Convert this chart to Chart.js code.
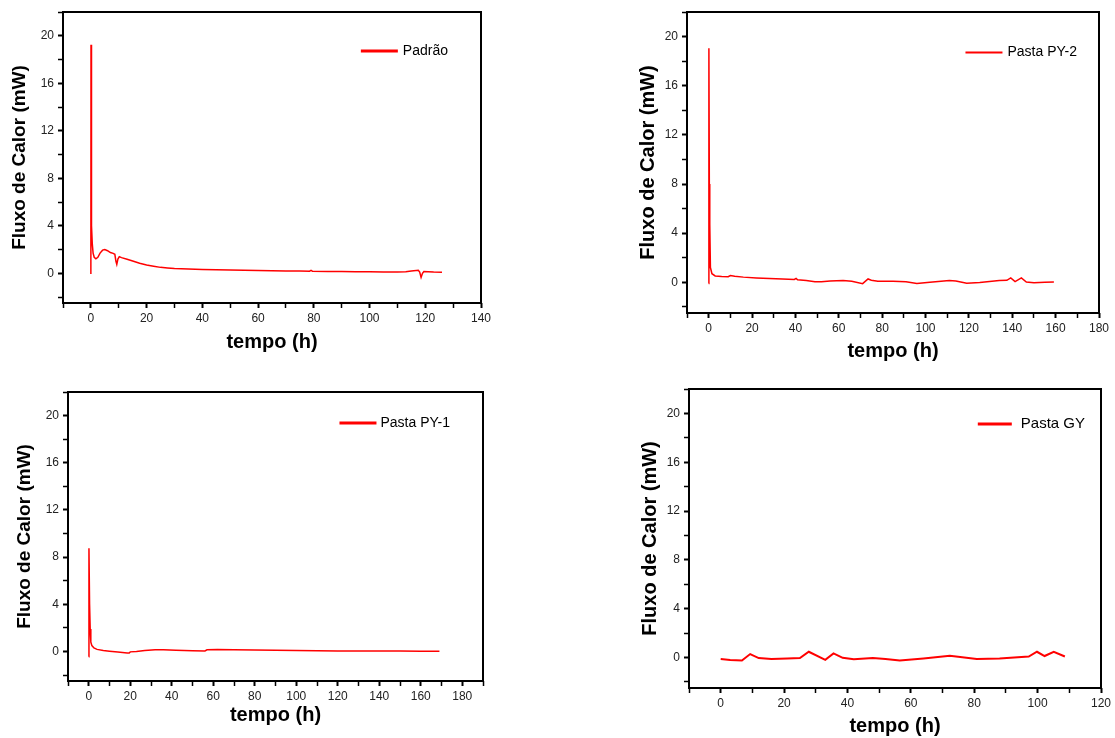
<!DOCTYPE html>
<html>
<head>
<meta charset="utf-8">
<script src="https://cdn.jsdelivr.net/npm/chart.js@4.4.1/dist/chart.umd.min.js"></script>
<style>
  html, body { margin: 0; padding: 0; background: #fff; }
  body { width: 1115px; height: 738px; position: relative; overflow: hidden; }
  .panel { position: absolute; }
</style>
</head>
<body>
<div class="panel" style="left:0;top:0;width:560px;height:370px"><canvas id="c1"></canvas></div>
<div class="panel" style="left:620px;top:0;width:495px;height:370px"><canvas id="c2"></canvas></div>
<div class="panel" style="left:0;top:370px;width:560px;height:368px"><canvas id="c3"></canvas></div>
<div class="panel" style="left:620px;top:370px;width:495px;height:368px"><canvas id="c4"></canvas></div>
<script>
// ---------- data ----------
const yTitle = 'Fluxo de Calor (mW)';
const xTitle = 'tempo (h)';

const padraoLabel = 'Padrão';
const padraoTime = [0, 0.05, 0.15, 0.3, 0.5, 0.8, 1.2, 1.8, 2.5, 3.3, 4.2, 5.0, 6.0, 7.0, 8.0, 8.6, 9.0, 9.3, 9.7, 10.2, 11, 13, 15, 17.5, 20, 22.5, 25, 27.5, 30, 35, 40, 45, 50, 55, 60, 65, 70, 75, 78.5, 79, 79.5, 85, 90, 95, 100, 105, 110, 113, 115, 117.5, 118.0, 118.5, 119.0, 119.5, 121, 123, 126];
const padraoFlux = [-0.05, 19.25, 17.5, 4.0, 2.5, 1.7, 1.35, 1.22, 1.35, 1.7, 1.95, 2.0, 1.9, 1.75, 1.68, 1.6, 1.0, 0.75, 1.2, 1.4, 1.32, 1.18, 1.03, 0.85, 0.7, 0.6, 0.5, 0.45, 0.41, 0.37, 0.33, 0.3, 0.27, 0.25, 0.23, 0.21, 0.2, 0.19, 0.18, 0.24, 0.18, 0.16, 0.15, 0.14, 0.13, 0.11, 0.1, 0.14, 0.19, 0.25, 0.1, -0.35, 0.0, 0.15, 0.13, 0.1, 0.08];

const py2Label = 'Pasta PY-2';
const py2Time = [0, 0.1, 0.3, 0.5, 0.8, 1.5, 3, 6, 9, 10, 12, 16, 22, 28, 34, 39.5, 40.3, 41, 45, 49, 52, 56, 62, 66, 71, 73.5, 75, 78, 85, 91, 96, 102, 111, 114, 119, 125, 134, 137.5, 139.3, 141.3, 144.2, 146.5, 150, 155, 159.2];
const py2Flux = [-0.1, 19.05, 8, 4.75, 1.2, 0.7, 0.52, 0.48, 0.46, 0.55, 0.5, 0.42, 0.35, 0.3, 0.26, 0.23, 0.32, 0.2, 0.15, 0.05, 0.04, 0.1, 0.14, 0.08, -0.11, 0.27, 0.17, 0.08, 0.08, 0.04, -0.1, 0.0, 0.14, 0.1, -0.08, -0.02, 0.14, 0.16, 0.36, 0.05, 0.36, 0.02, -0.04, 0.0, 0.03];

const py1Label = 'Pasta PY-1';
const py1Time = [0, 0.1, 0.4, 0.7, 1.0, 1.5, 2.5, 4, 7, 10, 14, 18.5, 19.5, 20, 23, 27, 32, 36, 42, 50, 56, 57, 62, 70, 80, 90, 100, 110, 120, 130, 140, 150, 160, 169];
const py1Flux = [-0.45, 8.75, 4, 1.9, 0.8, 0.5, 0.3, 0.18, 0.08, 0.02, -0.05, -0.12, -0.12, -0.03, 0.0, 0.08, 0.14, 0.14, 0.1, 0.07, 0.05, 0.15, 0.16, 0.14, 0.12, 0.1, 0.08, 0.07, 0.05, 0.05, 0.04, 0.04, 0.03, 0.03];

const gyLabel = 'Pasta GY';
const gyTime = [0, 3, 6.7, 9.3, 12, 16, 21, 25, 27.8, 33, 35.6, 38.5, 42, 48, 52, 56.5, 64, 72.3, 80.8, 88, 97.2, 99.8, 102.2, 105.1, 108.6];
const gyFlux = [-0.13, -0.2, -0.25, 0.28, -0.05, -0.12, -0.08, -0.05, 0.47, -0.19, 0.33, -0.03, -0.15, -0.05, -0.12, -0.25, -0.08, 0.14, -0.13, -0.08, 0.08, 0.47, 0.12, 0.47, 0.08];

const yMin = -2.5, yMax = 22, yStep = 2, yLabelEvery = 4;
const xMin = -10, xStep = 10, xLabelEvery = 20;

// ---------- plugins ----------
const framePlugin = {
  id: 'frame',
  afterDatasetsDraw(chart) {
    const a = chart.chartArea, ctx = chart.ctx;
    ctx.save();
    ctx.strokeStyle = '#000';
    ctx.lineWidth = 2;
    ctx.strokeRect(a.left, a.top, a.right - a.left, a.bottom - a.top);
    ctx.restore();
  }
};
const insideLegend = {
  id: 'insideLegend',
  afterDraw(chart, args, opts) {
    const a = chart.chartArea, ctx = chart.ctx;
    const ds = chart.data.datasets[0];
    ctx.save();
    ctx.font = opts.fontSize + 'px "Liberation Sans", Arial, sans-serif';
    ctx.textBaseline = 'middle';
    ctx.textAlign = 'left';
    const w = ctx.measureText(ds.label).width;
    const tx = a.right - opts.right - w;
    const ty = a.top + opts.dy;
    ctx.fillStyle = '#000';
    ctx.fillText(ds.label, tx, ty);
    ctx.strokeStyle = ds.borderColor;
    ctx.lineWidth = opts.lineWidth;
    ctx.beginPath();
    ctx.moveTo(tx - opts.gap - opts.lineLen, ty);
    ctx.lineTo(tx - opts.gap, ty);
    ctx.stroke();
    ctx.restore();
  }
};

function makeChart(id, cfg) {
  const pts = cfg.time.map((t, i) => ({ x: t, y: cfg.flux[i] }));
  const font = '"Liberation Sans", Arial, sans-serif';
  return new Chart(document.getElementById(id), {
    type: 'line',
    data: { datasets: [{ label: cfg.label, data: pts, borderColor: '#ff0000', backgroundColor: '#ff0000',
      borderWidth: cfg.lw, pointRadius: 0, tension: 0, fill: false }] },
    plugins: [framePlugin, insideLegend],
    options: {
      responsive: true, maintainAspectRatio: false, animation: false,
      layout: { padding: cfg.pad },
      plugins: {
        legend: { display: false }, tooltip: { enabled: false },
        insideLegend: cfg.legend
      },
      scales: {
        x: {
          type: 'linear', min: xMin, max: cfg.xMax,
          afterFit: s => { s.height = cfg.xH; },
          border: { display: false },
          grid: { drawOnChartArea: false, drawTicks: true, tickLength: 5, tickColor: '#000',
                  tickWidth: c => (c.tick && c.tick.value % xLabelEvery === 0) ? 2 : 1.5 },
          ticks: { stepSize: xStep, includeBounds: false, autoSkip: false, maxRotation: 0, padding: 3,
                   color: '#222', font: { family: font, size: 12 },
                   callback: v => (v % xLabelEvery === 0 ? String(v) : '') },
          title: { display: true, text: xTitle, color: '#000',
                   font: { family: font, size: cfg.xtSize, weight: 'bold' }, padding: { top: 0, bottom: cfg.xtPad } }
        },
        y: {
          type: 'linear', min: yMin, max: yMax,
          afterFit: s => { s.width = cfg.yW; },
          border: { display: false },
          grid: { drawOnChartArea: false, drawTicks: true, tickLength: 5, tickColor: '#000',
                  tickWidth: c => (c.tick && c.tick.value % yLabelEvery === 0) ? 2 : 1.5 },
          ticks: { stepSize: yStep, includeBounds: false, autoSkip: false, padding: 4,
                   color: '#222', font: { family: font, size: 12 },
                   callback: v => (v >= 0 && v % yLabelEvery === 0 ? String(v) : '') },
          title: { display: true, text: yTitle, color: '#000',
                   font: { family: font, size: cfg.ytSize, weight: 'bold' }, padding: { top: cfg.ytPad, bottom: 0 } }
        }
      }
    }
  });
}

makeChart('c1', { label: padraoLabel, time: padraoTime, flux: padraoFlux, lw: 1.5, xMax: 140,
  pad: { top: 12, right: 79, left: 0, bottom: 0 }, yW: 63, xH: 67,
  ytSize: 19, ytPad: 8.6, xtSize: 20, xtPad: 16,
  legend: { right: 33, dy: 39, fontSize: 14, lineLen: 37, gap: 5, lineWidth: 3 } });

makeChart('c2', { label: py2Label, time: py2Time, flux: py2Flux, lw: 1.5, xMax: 180,
  pad: { top: 12, right: 16, left: 0, bottom: 0 }, yW: 67, xH: 57,
  ytSize: 20, ytPad: 16, xtSize: 20, xtPad: 7,
  legend: { right: 22, dy: 40.5, fontSize: 14, lineLen: 37, gap: 5, lineWidth: 2 } });

makeChart('c3', { label: py1Label, time: py1Time, flux: py1Flux, lw: 1.5, xMax: 190,
  pad: { top: 22, right: 77, left: 0, bottom: 0 }, yW: 68, xH: 57,
  ytSize: 19, ytPad: 13.6, xtSize: 20, xtPad: 11,
  legend: { right: 33, dy: 31, fontSize: 14, lineLen: 37, gap: 4, lineWidth: 3 } });

makeChart('c4', { label: gyLabel, time: gyTime, flux: gyFlux, lw: 2, xMax: 120,
  pad: { top: 19, right: 14, left: 0, bottom: 0 }, yW: 69, xH: 50,
  ytSize: 20, ytPad: 18, xtSize: 20, xtPad: 0,
  legend: { right: 16, dy: 35, fontSize: 15, lineLen: 34, gap: 9, lineWidth: 3 } });
</script>
</body>
</html>
